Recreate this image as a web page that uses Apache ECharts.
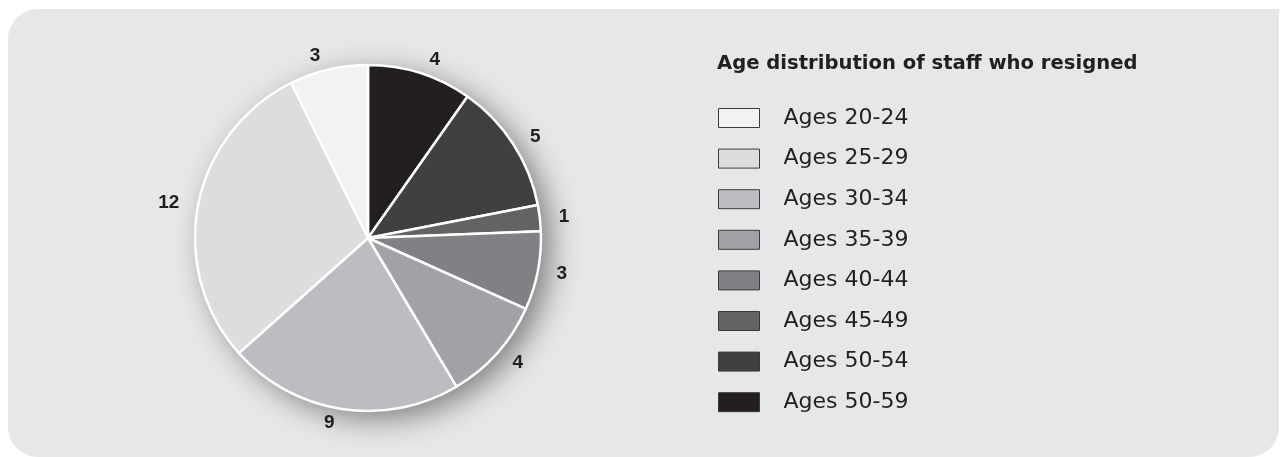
<!DOCTYPE html>
<html>
<head>
<meta charset="utf-8">
<script src="https://cdn.jsdelivr.net/npm/echarts@6/dist/echarts.min.js"></script>
<style>
html,body{margin:0;padding:0;background:#ffffff;}
#chart{width:1283px;height:457px;}
</style>
</head>
<body>
<div id="chart"></div>
<script>
// Data, clockwise from 12 o'clock
const categories = ['Ages 50-59', 'Ages 50-54', 'Ages 45-49', 'Ages 40-44', 'Ages 35-39', 'Ages 30-34', 'Ages 25-29', 'Ages 20-24'];
const values = [4, 5, 1, 3, 4, 9, 12, 3];
const colors = ['#231f20', '#404041', '#626365', '#808184', '#a1a2a5', '#bcbdc0', '#dcdddf', '#f1f2f3'];
const legendOrder = ['Ages 20-24', 'Ages 25-29', 'Ages 30-34', 'Ages 35-39', 'Ages 40-44', 'Ages 45-49', 'Ages 50-54', 'Ages 50-59'];
const titleText = 'Age distribution of staff who resigned';

const chart = echarts.init(document.getElementById('chart'), null, {renderer: 'canvas'});
const pieData = categories.map((c, i) => ({name: c, value: values[i], itemStyle: {color: colors[i]}}));

chart.setOption({
  animation: false,
  backgroundColor: '#ffffff',
  graphic: [{
    type: 'rect', z: -10, silent: true,
    shape: {x: 8, y: 9, width: 1271, height: 448, r: [30, 0, 30, 30]},
    style: {fill: '#e6e7e8'}
  }],
  title: {
    text: titleText,
    left: 712, top: 49,
    textStyle: {fontFamily: 'DejaVu Sans', fontWeight: 'bold', fontSize: 19.6, color: '#231f20'}
  },
  legend: {
    orient: 'vertical',
    left: 713, top: 102,
    itemWidth: 41, itemHeight: 19,
    itemGap: 18.6,
    icon: 'rect',
    data: legendOrder,
    selectedMode: false,
    itemStyle: {borderColor: '#3a3a3a', borderWidth: 1},
    textStyle: {fontFamily: 'DejaVu Sans', fontSize: 22, color: '#231f20', padding: [0, 0, 0, 19]}
  },
  series: [
    {
      type: 'pie', silent: true, z: 1,
      center: [368, 238], radius: 173,
      label: {show: false}, labelLine: {show: false},
      itemStyle: {color: '#e6e7e8', shadowBlur: 30, shadowOffsetX: 10, shadowOffsetY: 8, shadowColor: 'rgba(0,0,0,0.45)'},
      data: [{value: 1, name: '__shadow__'}]
    },
    {
      type: 'pie', z: 2,
      center: [368, 238], radius: 173,
      startAngle: 90, clockwise: true,
      avoidLabelOverlap: false,
      itemStyle: {borderColor: '#ffffff', borderWidth: 2.5},
      label: {
        show: true, position: 'outside',
        formatter: '{c}',
        fontFamily: 'Liberation Sans', fontWeight: 'bold', fontSize: 19, color: '#231f20'
      },
      labelLine: {show: false, length: 14, length2: 0},
      data: pieData
    }
  ]
});
</script>
</body>
</html>
